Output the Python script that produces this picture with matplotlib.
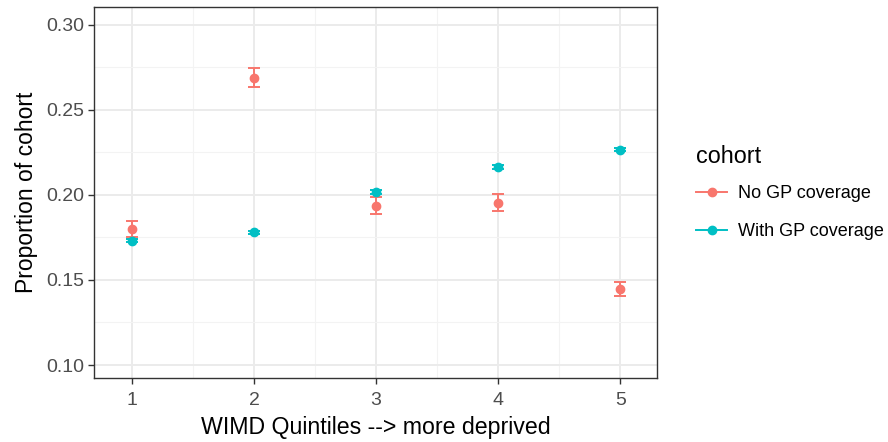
import numpy as np
import matplotlib.pyplot as plt
from matplotlib.lines import Line2D

plt.rcParams['font.family'] = ['Liberation Sans', 'DejaVu Sans']

# data
quintiles = [1, 2, 3, 4, 5]
no_gp = [0.1798, 0.2688, 0.1937, 0.1953, 0.1447]
no_gp_lo = [0.1752, 0.2631, 0.1888, 0.1904, 0.1404]
no_gp_hi = [0.1849, 0.2745, 0.1986, 0.2004, 0.1490]
with_gp = [0.1731, 0.1780, 0.2015, 0.2163, 0.2265]
with_gp_lo = [0.1720, 0.1770, 0.2004, 0.2153, 0.2255]
with_gp_hi = [0.1742, 0.1790, 0.2026, 0.2173, 0.2275]

red = '#F8766D'
teal = '#00BFC4'

fig = plt.figure(figsize=(8.88, 4.42), dpi=100)
ax = fig.add_axes([94 / 888, 1 - 378 / 442, (657 - 94) / 888, (378 - 7) / 442])

for y, lo, hi, c in [(no_gp, no_gp_lo, no_gp_hi, red), (with_gp, with_gp_lo, with_gp_hi, teal)]:
    y = np.array(y)
    err = [y - np.array(lo), np.array(hi) - y]
    ax.errorbar(quintiles, y, yerr=err, fmt='o', color=c, ms=6, elinewidth=1.4,
                capsize=4.4, capthick=1.4, zorder=3)

ax.set_xlim(0.69, 5.30)
ax.set_ylim(0.0924, 0.3103)
ax.set_xticks(quintiles)
ax.set_yticks([0.10, 0.15, 0.20, 0.25, 0.30])
ax.set_yticklabels(['0.10', '0.15', '0.20', '0.25', '0.30'])
ax.set_xticks([1.5, 2.5, 3.5, 4.5], minor=True)
ax.set_yticks([0.125, 0.175, 0.225, 0.275], minor=True)
ax.grid(which='major', color='#EBEBEB', lw=1.4)
ax.grid(which='minor', color='#F3F3F3', lw=0.8)
ax.set_axisbelow(True)
ax.tick_params(which='minor', length=0)
ax.tick_params(which='major', length=4.3, color='#333333', labelsize=14, labelcolor='#4D4D4D',
               width=1, pad=3)
ax.tick_params(axis='x', pad=6)
for s in ax.spines.values():
    s.set_color('#333333')
    s.set_linewidth(1.0)

ax.set_xlabel('WIMD Quintiles --> more deprived', fontsize=16.7, color='black', labelpad=5)
ax.set_ylabel('Proportion of cohort', fontsize=16.5, color='black', labelpad=6)

handles = [Line2D([], [], color=red, marker='o', ms=6, lw=1.4),
           Line2D([], [], color=teal, marker='o', ms=6, lw=1.4)]
leg = fig.legend(handles, ['No GP coverage', 'With GP coverage'], title='cohort',
                 loc='center left', bbox_to_anchor=(0.766, 0.564), frameon=False,
                 fontsize=13, title_fontsize=16.8, handlelength=1.7, labelspacing=1.15,
                 handletextpad=0.6)
leg._legend_box.align = 'left'
leg._legend_box.sep = 12

fig.savefig('out.png', dpi=100)
